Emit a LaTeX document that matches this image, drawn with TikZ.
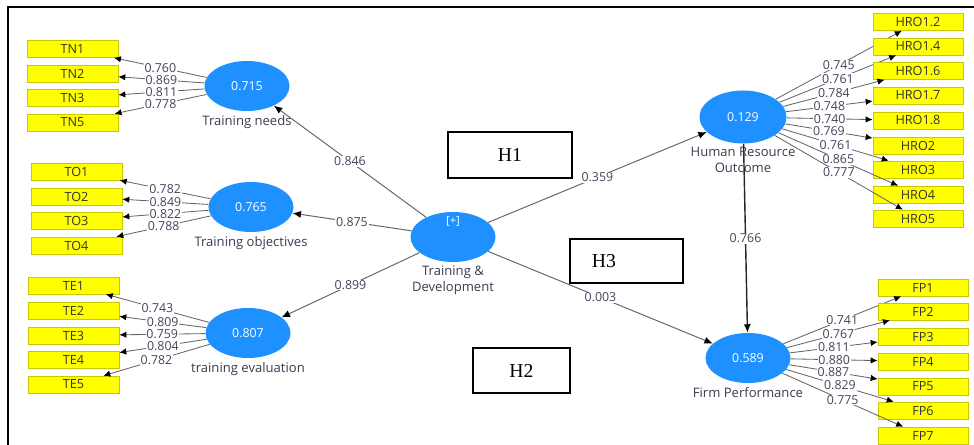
\documentclass[tikz,border=0pt]{standalone}
\usepackage{fontspec}
\setsansfont{Open Sans}
\newfontfamily\hypfont{Liberation Serif}
\usetikzlibrary{shapes.geometric,arrows.meta}
\definecolor{lvblue}{HTML}{1E90FF}
\definecolor{mvfill}{HTML}{FFFF00}
\definecolor{mvedge}{HTML}{C8C800}
\definecolor{mvtext}{HTML}{333333}
\definecolor{lbltext}{HTML}{3C3C50}
\definecolor{valtext}{HTML}{44445E}
\definecolor{lineg}{HTML}{666666}

\begin{document}
\begin{tikzpicture}[x=0.025cm,y=-0.025cm,
  lv/.style={ellipse,fill=lvblue,minimum width=2.125cm,minimum height=1.25cm,inner sep=0pt,
    text=white,font=\sffamily\fontsize{8.8}{10}\selectfont},
  mv/.style={draw=mvedge,fill=mvfill,minimum width=2.275cm,minimum height=0.425cm,inner sep=0pt,
    text=mvtext,font=\sffamily\fontsize{9}{10}\selectfont},
  lbl/.style={text=lbltext,align=center,inner sep=2.5pt,font=\sffamily\fontsize{9.3}{11}\selectfont},
  val/.style={fill=white,inner sep=0.6pt,text=valtext,font=\sffamily\fontsize{8.8}{10}\selectfont},
  ld/.style={draw=lineg,line width=0.6pt,-{Latex[length=5pt,width=4.5pt,color=black]}},
  pth/.style={draw=lineg,line width=0.7pt,-{Latex[length=6pt,width=5pt,color=black]}},
  hyp/.style={draw,line width=1.2pt,inner sep=0pt,font=\hypfont\fontsize{14}{16}\selectfont}]
  \useasboundingbox (0,0) rectangle (974,445);
  \draw[line width=1.6pt] (8,445) -- (8,7) -- (974,7);

  % constructs
  \node[lv,label={[lbl]below:Training needs}] (tn) at (247,86) {0.715};
  \node[lv,label={[lbl]below:Training objectives}] (to) at (251,207) {0.765};
  \node[lv,label={[lbl]below:training evaluation}] (te) at (248,333) {0.807};
  \node[lv,label={[lbl]below:{Training \&\\Development}}] (td) at (453,237) {};
  \node[text=white,font=\sffamily\fontsize{8}{10}\selectfont] (tdplus) at (453,221) {[+]};
  \node[lv,minimum width=2.175cm,minimum height=1.325cm,label={[lbl]below:{Human Resource\\Outcome}}] (hro) at (743,117) {0.129};
  \node[lv,label={[lbl]below:Firm Performance}] (fp) at (748,358) {0.589};

  % hypothesis boxes
  \node[hyp,minimum width=3.1cm,minimum height=1.15cm] (h1) at (510,155) {H1};
  \node[hyp,minimum height=1.1cm,text width=1.725cm,inner xsep=0.55cm,align=left] (h3) at (626.5,261) {H3};
  \node[hyp,minimum width=2.425cm,minimum height=1.125cm] (h2) at (521.5,370.5) {H2};

  % indicators
  \foreach \n/\y/\v in {1/49/0.760,2/73.5/0.869,3/98/0.811,5/122.5/0.778}{
    \node[mv] (tn\n) at (72.5,\y) {TN\n};
    \draw[ld] (tn) -- node[val]{\v} (tn\n);
  }
  \foreach \n/\y/\v in {1/171.5/0.782,2/196.5/0.849,3/220.5/0.822,4/245.5/0.788}{
    \node[mv] (to\n) at (76.5,\y) {TO\n};
    \draw[ld] (to) -- node[val]{\v} (to\n);
  }
  \foreach \n/\y/\v in {1/285.5/0.743,2/310.5/0.809,3/335.5/0.759,4/359.5/0.804,5/384.5/0.782}{
    \node[mv] (te\n) at (73.5,\y) {TE\n};
    \draw[ld] (te) -- node[val]{\v} (te\n);
  }
  \foreach \i/\n/\y/\v in {1/1.2/22/0.745,2/1.4/46.5/0.761,3/1.6/71/0.784,4/1.7/95.5/0.748,
      5/1.8/120.5/0.740,6/2/145.5/0.769,7/3/169.5/0.761,8/4/194.5/0.865,9/5/218.5/0.777}{
    \node[mv,minimum width=2.25cm] (hroi\i) at (918,\y) {HRO\n};
    \draw[ld] (hro) -- node[val]{\v} (hroi\i);
  }
  \foreach \n/\y/\v in {1/287.5/0.741,2/311.5/0.767,3/336.5/0.811,4/361.5/0.880,5/386.5/0.887,
      6/410.5/0.829,7/435.5/0.775}{
    \node[mv,minimum width=2.25cm] (fp\n) at (923,\y) {FP\n};
    \draw[ld] (fp) -- node[val]{\v} (fp\n);
  }

  % structural paths
  \draw[pth] (td) -- node[val]{0.846} (tn);
  \draw[pth] (td) -- node[val]{0.875} (to);
  \draw[pth] (td) -- node[val]{0.899} (te);
  \draw[pth] (td) -- node[val]{0.359} (hro);
  \draw[pth] (td) -- node[val]{0.003} (fp);
  \draw[pth,draw=black!85,line width=1pt] (hro) -- node[val]{0.766} (fp);
\end{tikzpicture}
\end{document}
